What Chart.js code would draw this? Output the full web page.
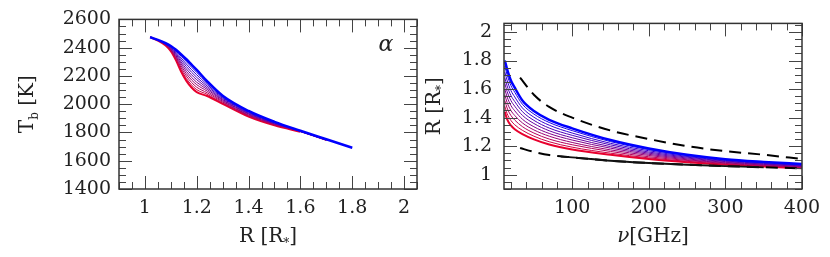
<!DOCTYPE html>
<html>
<head>
<meta charset="utf-8">
<script src="https://cdn.jsdelivr.net/npm/chart.js@4"></script>
<style>
  html, body { margin: 0; padding: 0; background: #fff; }
  #wrap { position: relative; width: 830px; height: 257px; }
  canvas { position: absolute; top: 0; }
</style>
</head>
<body>
<div id="wrap">
  <canvas id="left" width="420" height="257" style="left:0"></canvas>
  <canvas id="right" width="410" height="257" style="left:420px"></canvas>
</div>
<script>
// left panel: brightness temperature vs radius, one curve per model (blue -> red)
const leftR = [1.02, 1.05, 1.08, 1.1, 1.12, 1.14, 1.16, 1.18, 1.2, 1.24, 1.3, 1.4, 1.5, 1.6, 1.7, 1.8];
const tbCurves = [
  [2474, 2455, 2432, 2412, 2385, 2353, 2318, 2280, 2243, 2163, 2060, 1952, 1875, 1812, 1752, 1692],
  [2474, 2454, 2430, 2408, 2377, 2339, 2301, 2262, 2225, 2151, 2054, 1948, 1872, 1811, 1751, 1691],
  [2474, 2454, 2428, 2404, 2368, 2326, 2284, 2244, 2208, 2140, 2047, 1943, 1869, 1810, 1750, null],
  [2474, 2453, 2426, 2400, 2360, 2312, 2267, 2226, 2190, 2128, 2041, 1939, 1867, 1810, 1749, null],
  [2474, 2453, 2424, 2396, 2352, 2298, 2250, 2208, 2173, 2116, 2034, 1934, 1864, 1809, 1748, null],
  [2474, 2452, 2423, 2391, 2343, 2285, 2233, 2190, 2155, 2105, 2028, 1930, 1861, 1808, 1747, null],
  [2474, 2452, 2421, 2387, 2335, 2271, 2216, 2172, 2138, 2093, 2021, 1925, 1858, 1807, 1746, null],
  [2474, 2451, 2419, 2383, 2327, 2257, 2199, 2154, 2120, 2081, 2015, 1921, 1856, 1807, 1745, null],
  [2474, 2451, 2417, 2379, 2318, 2244, 2182, 2136, 2103, 2070, 2008, 1916, 1853, 1806, 1744, null],
  [2474, 2450, 2415, 2375, 2310, 2230, 2165, 2118, 2085, 2058, 2002, 1912, 1850, 1805, null, null]
];
const leftXTicks = [1, 1.2, 1.4, 1.6, 1.8, 2];
const leftYTicks = [1400, 1600, 1800, 2000, 2200, 2400, 2600];

// right panel: radius vs frequency
const freq = [12, 15, 20, 25, 35, 50, 70, 100, 150, 200, 250, 300, 350, 400];
const radiusCurves = [
  [1.800, 1.740, 1.660, 1.610, 1.520, 1.447, 1.385, 1.325, 1.243, 1.184, 1.140, 1.109, 1.090, 1.075],
  [1.760, 1.701, 1.625, 1.578, 1.494, 1.425, 1.366, 1.309, 1.232, 1.176, 1.134, 1.105, 1.086, 1.072],
  [1.720, 1.662, 1.590, 1.545, 1.468, 1.403, 1.347, 1.292, 1.220, 1.168, 1.128, 1.100, 1.083, 1.068],
  [1.680, 1.623, 1.555, 1.513, 1.442, 1.381, 1.327, 1.276, 1.209, 1.159, 1.123, 1.096, 1.079, 1.065],
  [1.640, 1.584, 1.520, 1.480, 1.416, 1.359, 1.308, 1.259, 1.197, 1.151, 1.117, 1.092, 1.075, 1.062],
  [1.600, 1.546, 1.485, 1.448, 1.389, 1.336, 1.289, 1.243, 1.186, 1.143, 1.111, 1.087, 1.072, 1.058],
  [1.560, 1.507, 1.450, 1.415, 1.363, 1.314, 1.270, 1.226, 1.174, 1.135, 1.105, 1.083, 1.068, 1.055],
  [1.520, 1.468, 1.415, 1.383, 1.337, 1.292, 1.250, 1.210, 1.163, 1.126, 1.100, 1.079, 1.064, 1.052],
  [1.480, 1.429, 1.380, 1.350, 1.311, 1.270, 1.231, 1.193, 1.151, 1.118, 1.094, 1.074, 1.061, 1.048],
  [1.440, 1.390, 1.345, 1.318, 1.285, 1.248, 1.212, 1.177, 1.140, 1.110, 1.088, 1.070, 1.057, 1.045]
];
const upperNu = [32, 50, 70, 100, 150, 200, 250, 300, 350, 400];
const upperR = [1.68, 1.56, 1.475, 1.40, 1.31, 1.25, 1.20, 1.165, 1.14, 1.11];
const lowerNu = [32, 50, 70, 100, 150, 200, 250, 300, 350, 400];
const lowerR = [1.187, 1.16, 1.138, 1.122, 1.098, 1.082, 1.07, 1.06, 1.052, 1.045];
const solidNu = [85, 100, 150, 200, 250, 300, 350];
const solidR = [1.127, 1.122, 1.098, 1.082, 1.07, 1.06, 1.052];
const rightXTicks = [100, 200, 300, 400];
const rightYTicks = [1, 1.2, 1.4, 1.6, 1.8, 2];

const FONT = "'DejaVu Serif', serif";
const INK = '#222';

function curveColor(k, n) {
  const f = k / (n - 1);
  return `rgb(${Math.round(232 * f)},0,${Math.round(255 * (1 - f) + 45 * f)})`;
}
function curveWidth(k, n) {
  if (k === 0) return 2.5;
  if (k === n - 1) return 2;
  return 1;
}
function toPoints(xs, ys) {
  return xs.map((x, i) => ({x: x, y: ys[i]}));
}

// text with italic / subscript pieces, centred on (cx, cy)
function drawRich(ctx, parts, cx, cy, size) {
  const fonts = parts.map(p => (p[1] === 'it' ? 'italic ' : '') +
    (p[1] === 'sub' ? Math.round(size * 0.62) : size) + 'px ' + FONT);
  let total = 0;
  const widths = parts.map((p, i) => {
    ctx.font = fonts[i];
    const w = ctx.measureText(p[0]).width;
    total += w;
    return w;
  });
  let x = cx - total / 2;
  ctx.textAlign = 'left';
  ctx.textBaseline = 'middle';
  parts.forEach((p, i) => {
    ctx.font = fonts[i];
    ctx.fillText(p[0], x, cy + (p[1] === 'sub' ? size * 0.32 : 0));
    x += widths[i];
  });
}

// box with inward ticks on all four sides, plus axis titles
const frameTicks = {
  id: 'frameTicks',
  afterDraw(chart, args, o) {
    const {ctx, chartArea: a, scales: {x, y}} = chart;
    ctx.save();
    ctx.strokeStyle = '#444';
    ctx.lineWidth = 1;
    const eps = 1e-9;
    const tick = (scale, step, len, horiz) => {
      let v = Math.ceil((scale.min - eps) / step) * step;
      for (; v <= scale.max + eps; v += step) {
        const p = Math.round(scale.getPixelForValue(v)) + 0.5;
        ctx.beginPath();
        if (horiz) {
          ctx.moveTo(p, a.bottom); ctx.lineTo(p, a.bottom - len);
          ctx.moveTo(p, a.top); ctx.lineTo(p, a.top + len);
        } else {
          ctx.moveTo(a.left, p); ctx.lineTo(a.left + len, p);
          ctx.moveTo(a.right, p); ctx.lineTo(a.right - len, p);
        }
        ctx.stroke();
      }
    };
    tick(x, o.xMinor, 7, true);
    tick(x, o.xMajor, 13, true);
    tick(y, o.yMinor, 7, false);
    tick(y, o.yMajor, 13, false);
    ctx.lineWidth = 1.5;
    ctx.strokeStyle = '#333';
    ctx.strokeRect(a.left, a.top, a.right - a.left, a.bottom - a.top);

    ctx.fillStyle = INK;
    drawRich(ctx, o.xTitle, (a.left + a.right) / 2, 237, 20);
    ctx.save();
    ctx.translate(o.yTitleX, (a.top + a.bottom) / 2);
    ctx.rotate(-Math.PI / 2);
    drawRich(ctx, o.yTitle, 0, 0, 20);
    ctx.restore();
    if (o.tag) drawRich(ctx, [[o.tag, 'it']], o.tag_x, o.tag_y, 22);
    ctx.restore();
  }
};

function axis(min, max, ticks, isX, pad, size) {
  return {
    type: 'linear',
    min: min,
    max: max,
    grid: {display: false, drawTicks: false},
    border: {display: false},
    afterBuildTicks: s => { s.ticks = ticks.map(v => ({value: v})); },
    afterFit: s => { if (isX) s.height = size; else s.width = size; },
    ticks: {
      padding: pad,
      color: INK,
      font: {family: FONT, size: 19},
      callback: v => String(v)
    }
  };
}

const leftSets = tbCurves.map((row, k) => ({
  data: toPoints(leftR, row),
  borderColor: curveColor(k, tbCurves.length),
  borderWidth: curveWidth(k, tbCurves.length),
  pointRadius: 0,
  cubicInterpolationMode: 'monotone'
}));

new Chart(document.getElementById('left'), {
  type: 'line',
  data: {datasets: leftSets},
  options: {
    responsive: false,
    animation: false,
    devicePixelRatio: 1,
    layout: {padding: {top: 15, right: 3, left: 0, bottom: 0}},
    scales: {
      x: axis(0.9, 2.05, leftXTicks, true, 8, 68),
      y: axis(1400, 2600, leftYTicks, false, 8, 119)
    },
    plugins: {
      legend: {display: false},
      tooltip: {enabled: false},
      frameTicks: {
        xMinor: 0.05, xMajor: 0.2, yMinor: 50, yMajor: 200,
        xTitle: [['R [R'], ['*', 'sub'], [']']],
        yTitle: [['T'], ['b', 'sub'], [' [K]']],
        yTitleX: 28,
        tag: 'α', tag_x: 386, tag_y: 45
      }
    }
  },
  plugins: [frameTicks]
});

const rightSets = radiusCurves.map((row, k) => ({
  data: toPoints(freq, row),
  borderColor: curveColor(k, radiusCurves.length),
  borderWidth: curveWidth(k, radiusCurves.length),
  pointRadius: 0,
  cubicInterpolationMode: 'monotone'
}));
rightSets.unshift(
  {data: toPoints(upperNu, upperR), borderColor: '#000', borderWidth: 2, borderDash: [12, 7],
   pointRadius: 0, cubicInterpolationMode: 'monotone'},
  {data: toPoints(solidNu, solidR), borderColor: '#111', borderWidth: 1.8,
   pointRadius: 0, cubicInterpolationMode: 'monotone'},
  {data: toPoints(lowerNu, lowerR), borderColor: '#000', borderWidth: 2, borderDash: [12, 7],
   pointRadius: 0, cubicInterpolationMode: 'monotone'}
);

new Chart(document.getElementById('right'), {
  type: 'line',
  data: {datasets: rightSets},
  options: {
    responsive: false,
    animation: false,
    devicePixelRatio: 1,
    layout: {padding: {top: 15, right: 28, left: 0, bottom: 0}},
    scales: {
      x: axis(11, 400, rightXTicks, true, 8, 68),
      y: axis(0.9, 2.06, rightYTicks, false, 12, 84)
    },
    plugins: {
      legend: {display: false},
      tooltip: {enabled: false},
      frameTicks: {
        xMinor: 20, xMajor: 100, yMinor: 0.05, yMajor: 0.2,
        xTitle: [['ν', 'it'], ['[GHz]']],
        yTitle: [['R [R'], ['*', 'sub'], [']']],
        yTitleX: 15
      }
    }
  },
  plugins: [frameTicks]
});
</script>
</body>
</html>
